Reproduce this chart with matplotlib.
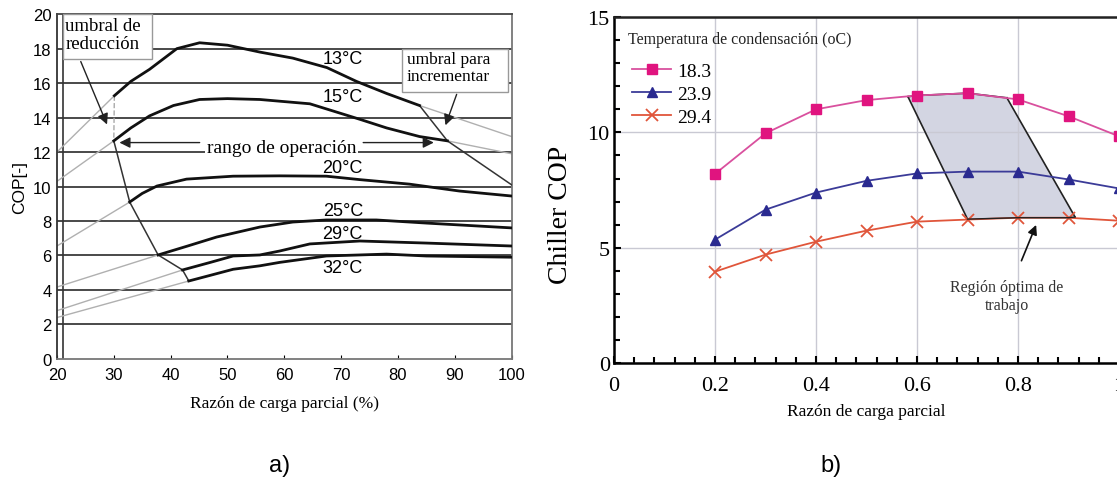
import numpy as np
import matplotlib.pyplot as plt
from matplotlib.patches import Rectangle, Polygon

SERIF = 'Liberation Serif'
SANS = 'Liberation Sans'

# ---- panel a data ----
x13 = [30.1, 33.0, 36.3, 41.1, 45.1, 50.0, 55.7, 61.5, 67.5, 72.7, 78.0, 83.8]
y13 = [15.27, 16.1, 16.8, 18.0, 18.34, 18.2, 17.8, 17.45, 16.9, 16.1, 15.4, 14.7]
x15 = [30.0, 33.0, 36.3, 40.5, 45.1, 50.0, 55.7, 59.2, 64.5, 73.3, 78.0, 83.8, 88.7]
y15 = [12.65, 13.4, 14.1, 14.7, 15.05, 15.1, 15.05, 14.95, 14.8, 13.9, 13.4, 12.9, 12.65]
x20 = [32.8, 35.0, 37.6, 42.8, 51.0, 59.2, 67.4, 73.3, 82.0, 90.8, 100.0]
y20 = [9.1, 9.6, 10.03, 10.43, 10.6, 10.62, 10.6, 10.4, 10.14, 9.74, 9.45]
x25 = [37.8, 43.0, 48.1, 55.7, 61.5, 67.4, 76.2, 85.0, 100.0]
y25 = [6.03, 6.55, 7.07, 7.65, 7.94, 8.06, 8.06, 7.88, 7.6]
x29 = [42.1, 47.0, 51.0, 55.7, 59.2, 64.5, 73.3, 85.0, 100.0]
y29 = [5.16, 5.6, 5.97, 6.03, 6.26, 6.67, 6.84, 6.72, 6.55]
x32 = [43.2, 47.0, 51.0, 55.7, 59.2, 67.4, 78.0, 85.0, 100.0]
y32 = [4.52, 4.85, 5.2, 5.4, 5.6, 5.97, 6.08, 5.97, 5.9]
curve_labels = ['13°C', '15°C', '20°C', '25°C', '29°C', '32°C']
label_y = [17.4, 15.25, 11.1, 8.6, 7.25, 5.33]
ext_left = [12.0, 10.3, 6.55, 4.17, 2.8, 2.4]
ext_right_13 = 12.9
ext_right_15 = 11.9
reduc_x = [30.0, 32.8, 37.8, 42.1, 43.2]
reduc_y = [12.65, 9.1, 6.03, 5.16, 4.52]
incr_x = [83.8, 88.7, 100.0]
incr_y = [14.7, 12.65, 10.1]

# ---- panel b data ----
plr = [0.2, 0.3, 0.4, 0.5, 0.6, 0.7, 0.8, 0.9, 1.0]
cop_183 = [8.2, 9.96, 11.0, 11.4, 11.6, 11.7, 11.43, 10.7, 9.83]
cop_239 = [5.35, 6.65, 7.39, 7.9, 8.22, 8.3, 8.3, 7.96, 7.57]
cop_294 = [3.96, 4.7, 5.26, 5.74, 6.13, 6.22, 6.3, 6.3, 6.17]
region_x = [0.582, 0.6, 0.7, 0.778, 0.913, 0.9, 0.8, 0.7]
region_y = [11.55, 11.6, 11.7, 11.5, 6.33, 6.3, 6.3, 6.24]

fig = plt.figure(figsize=(11.17, 4.89), dpi=100)

# ================= panel a =================
ax = fig.add_axes([0.051, 0.264, 0.407, 0.705])
ax.set_xlim(20, 100)
ax.set_ylim(0, 20)
for g in range(2, 20, 2):
    ax.axhline(g, color='#3a3a3a', lw=1.3, zorder=1)
ax.axvline(21, color='#333', lw=1.2, zorder=2)

curves = [(x13, y13), (x15, y15), (x20, y20), (x25, y25), (x29, y29), (x32, y32)]
for (xs, ys), yl in zip(curves, ext_left):
    ax.plot([20, xs[0]], [yl, ys[0]], color='#b0b0b0', lw=1.0, zorder=2)
    ax.plot(xs, ys, color='#111', lw=2.0, zorder=4)
ax.plot([x13[-1], 100], [y13[-1], ext_right_13], color='#b0b0b0', lw=1.0, zorder=2)
ax.plot([x15[-1], 100], [y15[-1], ext_right_15], color='#b0b0b0', lw=1.0, zorder=2)
ax.plot([x13[0], x15[0]], [y13[0], y15[0]], color='#aaa', lw=1.0, ls='--', zorder=3)
ax.plot(reduc_x, reduc_y, color='#333', lw=1.1, zorder=3)
ax.plot(incr_x, incr_y, color='#333', lw=1.1, zorder=3)

for lab, yl in zip(curve_labels, label_y):
    ax.text(70.3, yl, lab, fontsize=13, family=SANS, ha='center', va='center', zorder=5)

# boxes
ax.add_patch(Rectangle((21.1, 17.4), 15.6, 2.6, facecolor='white', edgecolor='#999',
                       lw=1.0, zorder=6, clip_on=False))
ax.text(21.5, 19.85, 'umbral de\nreducción', fontsize=13.5, family=SERIF, ha='left',
        va='top', linespacing=1.1, zorder=7)
ax.add_patch(Rectangle((80.8, 15.5), 18.5, 2.5, facecolor='white', edgecolor='#999',
                       lw=1.0, zorder=6))
ax.text(81.6, 17.85, 'umbral para\nincrementar', fontsize=12.5, family=SERIF, ha='left',
        va='top', linespacing=1.05, zorder=7)

arw = dict(arrowstyle='-|>', color='#222', lw=1.0, mutation_scale=16)
ax.annotate('', xy=(29.0, 13.45), xytext=(24.0, 17.4), arrowprops=arw, zorder=8)
ax.annotate('', xy=(88.2, 13.4), xytext=(90.5, 15.5), arrowprops=arw, zorder=8)
ax.text(59.5, 12.25, 'rango de operación', fontsize=14, family=SERIF, ha='center',
        va='center', zorder=7,
        bbox=dict(boxstyle='square,pad=0.1', facecolor='white', edgecolor='none'))
ax.annotate('', xy=(30.5, 12.55), xytext=(45.6, 12.55), arrowprops=arw, zorder=8)
ax.annotate('', xy=(86.8, 12.55), xytext=(73.4, 12.55), arrowprops=arw, zorder=8)

ax.set_xticks(range(20, 101, 10))
ax.set_yticks(range(0, 21, 2))
ax.tick_params(axis='y', length=0, pad=4, labelsize=12)
ax.tick_params(axis='x', length=3, direction='in', labelsize=12, pad=6)
for t in ax.get_xticklabels() + ax.get_yticklabels():
    t.set_family(SANS)
ax.set_ylabel('COP[-]', fontsize=12.5, family=SANS, labelpad=4)
ax.set_xlabel('Razón de carga parcial (%)', fontsize=12.5, family=SERIF, labelpad=9)
ax.spines['left'].set_color('#333')
ax.spines['left'].set_linewidth(1.3)
for s in ['bottom', 'right']:
    ax.spines[s].set_color('#777')
    ax.spines[s].set_linewidth(1.3)
ax.spines['top'].set_color('#444')
ax.spines['top'].set_linewidth(1.3)

# ================= panel b =================
bx = fig.add_axes([0.5497, 0.2556, 0.4521, 0.7074])
bx.set_xlim(0, 1)
bx.set_ylim(0, 15)
bx.set_xticks([0, 0.2, 0.4, 0.6, 0.8, 1.0])
bx.set_xticklabels(['0', '0.2', '0.4', '0.6', '0.8', '1'])
bx.set_yticks([0, 5, 10, 15])
bx.set_xticks(np.arange(0, 1.0001, 0.04), minor=True)
bx.set_yticks(range(0, 16), minor=True)
bx.grid(True, which='major', color='#c9c9d3', lw=1.0, zorder=0)
bx.tick_params(which='both', direction='in', width=1.5, labelsize=16, colors='black')
bx.tick_params(which='major', length=5)
bx.tick_params(which='minor', length=4)
bx.tick_params(axis='x', pad=9)
bx.tick_params(axis='y', pad=3)
for t in bx.get_xticklabels() + bx.get_yticklabels():
    t.set_family(SERIF)
for s in ['left', 'bottom', 'top']:
    bx.spines[s].set_linewidth(1.8)
bx.spines['top'].set_color('#222')

bx.add_patch(Polygon(list(zip(region_x, region_y)), closed=True, facecolor='#d3d5e2',
                     edgecolor='none', zorder=1))
bx.plot(region_x[0:4], region_y[0:4], color='#222', lw=1.2, zorder=2)
bx.plot([region_x[0], region_x[-1]], [region_y[0], region_y[-1]], color='#222', lw=1.2, zorder=2)
bx.plot([region_x[3], region_x[4]], [region_y[3], region_y[4]], color='#222', lw=1.2, zorder=2)

bx.plot(plr, cop_183, color='#d9509e', lw=1.3, marker='s', ms=6.5, mfc='#e0147f',
        mec='#e0147f', label='18.3', zorder=3)
bx.plot(plr, cop_239, color='#3b3b98', lw=1.3, marker='^', ms=7, mfc='#2a2a90',
        mec='#2a2a90', label='23.9', zorder=3)
bx.plot(plr, cop_294, color='#e0553a', lw=1.3, marker='x', ms=9, mew=1.3,
        mec='#e0553a', label='29.4', zorder=3)
bx.plot(region_x[4:], region_y[4:], color='#222', lw=1.0, zorder=4)

bx.text(0.028, 0.936, 'Temperatura de condensación (oC)', transform=bx.transAxes,
        fontsize=11.5, family=SERIF, ha='left', va='center', color='#222')
leg = bx.legend(loc='upper left', bbox_to_anchor=(0.036, 0.87), frameon=False,
                handlelength=2.0, handletextpad=0.3, labelspacing=0.28,
                borderaxespad=0.0, borderpad=0.0,
                prop={'family': SERIF, 'size': 14})

bx.annotate('Región óptima de\ntrabajo', xy=(0.838, 6.1), xytext=(0.778, 2.9),
            ha='center', va='center', fontsize=11.5, family=SERIF, color='#333',
            arrowprops=dict(arrowstyle='-|>', color='#111', lw=1.2, mutation_scale=14,
                            shrinkA=12))
bx.set_ylabel('Chiller COP', fontsize=20, family=SERIF)
bx.yaxis.set_label_coords(-0.081, 0.43)
bx.set_xlabel('Razón de carga parcial', fontsize=12.5, family=SERIF, labelpad=6)

fig.text(0.25, 0.047, 'a)', fontsize=17, family=SANS, ha='center', va='center')
fig.text(0.744, 0.047, 'b)', fontsize=17, family=SANS, ha='center', va='center')

fig.savefig('out.png', dpi=100)
